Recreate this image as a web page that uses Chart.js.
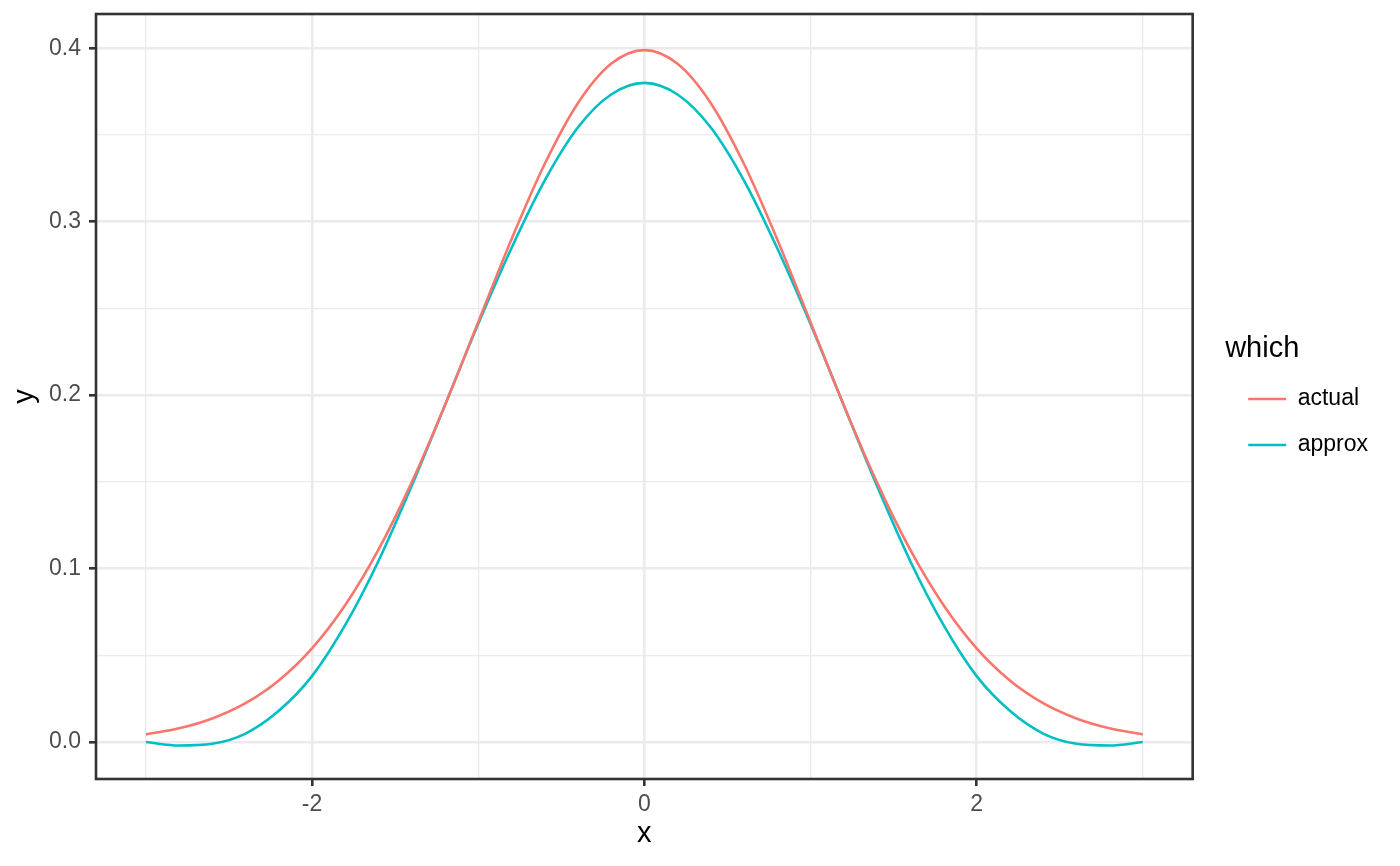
<!DOCTYPE html>
<html>
<head>
<meta charset="utf-8">
<script src="https://cdn.jsdelivr.net/npm/chart.js@4/dist/chart.umd.min.js"></script>
<style>
  html, body { margin: 0; padding: 0; background: #ffffff; }
  #wrap { width: 1400px; height: 866px; }
</style>
</head>
<body>
<div id="wrap"><canvas id="curves"></canvas></div>
<script>
// x positions and the two curves
const xs = [-3, -2.8, -2.6, -2.4, -2.2, -2, -1.8, -1.6, -1.4, -1.2, -1, -0.8, -0.6, -0.4, -0.2, 0,
            0.2, 0.4, 0.6, 0.8, 1, 1.2, 1.4, 1.6, 1.8, 2, 2.2, 2.4, 2.6, 2.8, 3];
const actual = [0.0044, 0.0079, 0.0136, 0.0224, 0.0355, 0.0540, 0.0790, 0.1109, 0.1497, 0.1942, 0.2420,
                0.2897, 0.3332, 0.3683, 0.3910, 0.3989, 0.3910, 0.3683, 0.3332, 0.2897, 0.2420,
                0.1942, 0.1497, 0.1109, 0.0790, 0.0540, 0.0355, 0.0224, 0.0136, 0.0079, 0.0044];
const approx = [0.0000, -0.0020, -0.0010, 0.0049, 0.0180, 0.0380, 0.0675, 0.1044, 0.1477, 0.1942, 0.2410,
                0.2847, 0.3237, 0.3543, 0.3733, 0.3800, 0.3733, 0.3543, 0.3237, 0.2847, 0.2410,
                0.1942, 0.1477, 0.1044, 0.0675, 0.0380, 0.0180, 0.0049, -0.0010, -0.0020, 0.0000];

const seriesNames = ['actual', 'approx'];
const xMajor = [-2, 0, 2];
const xMinor = [-3, -1, 1, 3];
const yMajor = [0, 0.1, 0.2, 0.3, 0.4];
const yMinor = [0.05, 0.15, 0.25, 0.35];

const RED = '#F8766D';
const TEAL = '#00BFC4';
const LW = 2.6;
const FONT = 'Liberation Sans, Arial, sans-serif';

const isMajor = (list, v) => list.some(m => Math.abs(m - v) < 1e-9);

// full panel border like theme_bw
const panelBorder = {
  id: 'panelBorder',
  afterDraw(chart) {
    const { ctx, chartArea: a } = chart;
    ctx.save();
    ctx.strokeStyle = '#333333';
    ctx.lineWidth = LW;
    ctx.strokeRect(a.left, a.top, a.right - a.left, a.bottom - a.top);
    ctx.restore();
  }
};

const gridFor = (major) => ({
  color: '#EBEBEB',
  lineWidth: (c) => isMajor(major, c.tick.value) ? LW : LW / 2,
  tickColor: (c) => isMajor(major, c.tick.value) ? '#333333' : 'rgba(0,0,0,0)',
  tickWidth: LW,
  tickLength: 7
});

const noEdgePadding = (axis) => {
  axis.paddingTop = 0;
  axis.paddingBottom = 0;
  axis.paddingLeft = 0;
  axis.paddingRight = 0;
};

const ctx = document.getElementById('curves');
const chart = new Chart(ctx, {
  type: 'line',
  data: {
    datasets: [
      {
        label: seriesNames[0],
        data: xs.map((x, i) => ({ x: x, y: actual[i] })),
        borderColor: RED,
        backgroundColor: RED,
        borderWidth: LW,
        pointRadius: 0,
        cubicInterpolationMode: 'monotone'
      },
      {
        label: seriesNames[1],
        data: xs.map((x, i) => ({ x: x, y: approx[i] })),
        borderColor: TEAL,
        backgroundColor: TEAL,
        borderWidth: LW,
        pointRadius: 0,
        cubicInterpolationMode: 'monotone'
      }
    ]
  },
  options: {
    responsive: true,
    maintainAspectRatio: false,
    animation: false,
    layout: { padding: { top: 14, right: 22, bottom: 0, left: 0 } },
    plugins: {
      tooltip: { enabled: false },
      legend: {
        position: 'right',
        align: 'center',
        fullSize: false,
        title: {
          display: true,
          text: 'which',
          position: 'start',
          color: '#000000',
          font: { family: FONT, size: 29, lineHeight: 1 },
          padding: { top: 21, bottom: 1 }
        },
        labels: {
          color: '#000000',
          font: { family: FONT, size: 23 },
          usePointStyle: true,
          pointStyle: 'line',
          pointStyleWidth: 38,
          padding: 23
        }
      }
    },
    scales: {
      x: {
        type: 'linear',
        min: -3.3,
        max: 3.3,
        afterBuildTicks: (axis) => {
          axis.ticks = [...xMajor, ...xMinor].sort((a, b) => a - b).map(v => ({ value: v }));
        },
        afterFit: (axis) => { axis.height = 87; noEdgePadding(axis); },
        ticks: {
          autoSkip: false,
          maxRotation: 0,
          padding: 5,
          color: '#4D4D4D',
          font: { family: FONT, size: 23 },
          callback: (v) => isMajor(xMajor, v) ? String(v) : ''
        },
        grid: gridFor(xMajor),
        border: { display: false },
        title: {
          display: true,
          text: 'x',
          color: '#000000',
          font: { family: FONT, size: 29 },
          padding: { top: 0, bottom: 15 }
        }
      },
      y: {
        type: 'linear',
        min: -0.0213,
        max: 0.4197,
        afterBuildTicks: (axis) => {
          axis.ticks = [...yMajor, ...yMinor].sort((a, b) => a - b).map(v => ({ value: v }));
        },
        afterFit: (axis) => { axis.width = 96; noEdgePadding(axis); },
        ticks: {
          autoSkip: false,
          padding: 8,
          color: '#4D4D4D',
          font: { family: FONT, size: 23 },
          callback: (v) => isMajor(yMajor, v) ? v.toFixed(1) : ''
        },
        grid: gridFor(yMajor),
        border: { display: false },
        title: {
          display: true,
          text: 'y',
          color: '#000000',
          font: { family: FONT, size: 29 },
          padding: { top: 8, bottom: 0 }
        }
      },
      // empty axis used only as the gap between the panel and the legend
      gap: {
        type: 'linear',
        position: 'right',
        display: true,
        grid: { display: false },
        border: { display: false },
        ticks: { display: false },
        afterFit: (axis) => { axis.width = 32.5; noEdgePadding(axis); }
      }
    }
  },
  plugins: [panelBorder]
});
</script>
</body>
</html>
